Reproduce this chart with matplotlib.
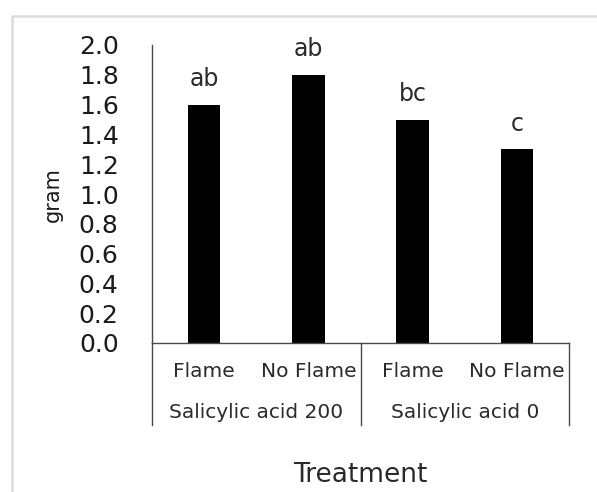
import numpy as np
import matplotlib
matplotlib.use("Agg")
from matplotlib import pyplot as plt
from matplotlib.patches import Rectangle

treatments = ["Flame", "No Flame", "Flame", "No Flame"]
groups = ["Salicylic acid 200", "Salicylic acid 0"]
values = [1.6, 1.8, 1.5, 1.3]
letters = ["ab", "ab", "bc", "c"]
yticks = [0.0, 0.2, 0.4, 0.6, 0.8, 1.0, 1.2, 1.4, 1.6, 1.8, 2.0]

plt.rcParams['font.family'] = ['DejaVu Sans']
fig = plt.figure(figsize=(5.97, 4.92), dpi=100)
fig.patch.set_facecolor('white')

# light grey frame around the chart area
fig.patches.append(Rectangle((12/597, -0.1), 1.2, 1 - 16/492 + 0.1,
                             transform=fig.transFigure, fill=False,
                             edgecolor='#dcdcdc', linewidth=1.8))

ax = fig.add_axes([152/597, 1 - 343/492, 417/597, 298/492])
x = np.arange(len(values))
ax.bar(x, values, width=0.31, color='black')
ax.set_xlim(-0.5, 3.5)
ax.set_ylim(0, 2.0)
ax.set_yticks(yticks)
ax.set_yticklabels([f"{t:.1f}" for t in yticks], fontsize=18, color='#1a1a1a')
ax.tick_params(axis='y', length=0, pad=24)
ax.set_xticks([])
for s in ['top', 'right']:
    ax.spines[s].set_visible(False)
for s in ['left', 'bottom']:
    ax.spines[s].set_color('#4a4a4a')
    ax.spines[s].set_linewidth(1.0)

for xi, v, l in zip(x, values, letters):
    ax.text(xi, v + 0.17, l, ha='center', va='center', fontsize=17, color='#2a2a2a')

tr = ax.get_xaxis_transform()
for xi, t in zip(x, treatments):
    ax.text(xi, -0.094, t, ha='center', va='center', fontsize=14.5,
            color='#2a2a2a', transform=tr, clip_on=False)
for gi, g in enumerate(groups):
    ax.text(gi * 2 + 0.5, -0.232, g, ha='center', va='center', fontsize=14.5,
            color='#2a2a2a', transform=tr, clip_on=False)
for xl in [-0.5, 1.5, 3.5]:
    ax.plot([xl, xl], [0, -0.275], color='#4a4a4a', lw=1.0,
            transform=tr, clip_on=False)

ax.text(1.5, -0.443, "Treatment", ha='center', va='center', fontsize=19,
        color='#2a2a2a', transform=tr, clip_on=False)
fig.text(53/597, 1 - 195/492, "gram", rotation=90, ha='center', va='center',
         fontsize=15, color='#1a1a1a')

fig.savefig("out.png", dpi=100, facecolor='white')
